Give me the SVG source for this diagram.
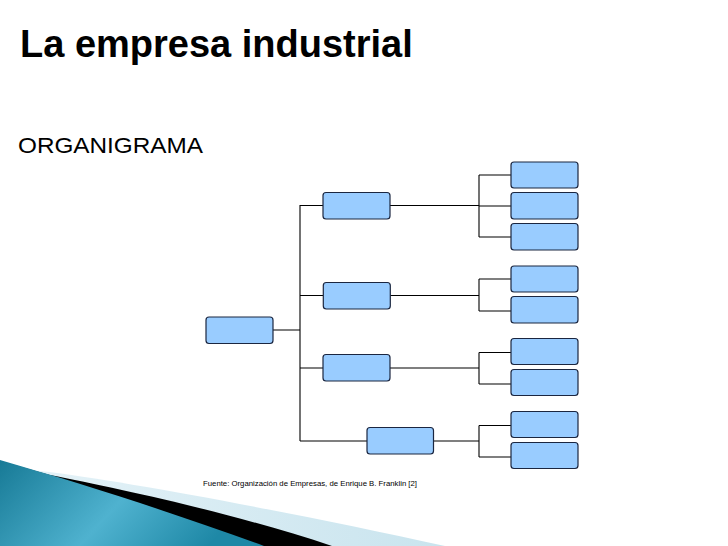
<svg xmlns="http://www.w3.org/2000/svg" width="728" height="546" viewBox="0 0 728 546">
<defs>
<style>
.box{fill:#99ccff;stroke:#1b2640;stroke-width:1.2}
.con{fill:none;stroke:#000;stroke-width:1.1}
.t{font-family:"Liberation Sans",Arial,sans-serif;fill:#000}
</style>
<linearGradient id="teal" x1="0" y1="0" x2="1" y2="0.3">
<stop offset="0" stop-color="#177a96"/>
<stop offset="0.55" stop-color="#4fb2cf"/>
<stop offset="1" stop-color="#1e88a6"/>
</linearGradient>
<linearGradient id="lb" x1="0" y1="0" x2="1" y2="0">
<stop offset="0" stop-color="#e6f3f8"/>
<stop offset="1" stop-color="#c9e4ee"/>
</linearGradient>
</defs>
<rect width="728" height="546" fill="#fff"/>
<g id="swoosh">
<path d="M40,471 C120,480 300,514 445,546 L0,546 Z" fill="url(#lb)"/>
<path d="M0,461 L50,475 C120,489 230,512 332,546 L0,546 Z" fill="#000"/>
<path d="M0,460 C80,483 180,515 264,546 L0,546 Z" fill="url(#teal)"/>
</g>
<text class="t" x="20" y="57" font-size="38" font-weight="bold">La empresa industrial</text>
<text class="t" x="18" y="153" font-size="22.5" textLength="185" lengthAdjust="spacingAndGlyphs">ORGANIGRAMA</text>
<g id="connectors">
<path class="con" d="M273,330 H300 M300,205 V441 M300,205.5 H323 M300,295.5 H323 M300,368 H323 M300,441 H367"/>
<path class="con" d="M390,205.5 H479 M479,175 V237 M479,175 H511 M479,206 H511 M479,237 H511"/>
<path class="con" d="M390,295.5 H479 M479,279 V311 M479,279 H511 M479,311 H511"/>
<path class="con" d="M390,368 H479 M479,352.5 V384 M479,352.5 H511 M479,384 H511"/>
<path class="con" d="M433,441 H479 M479,425.5 V457 M479,425.5 H511 M479,457 H511"/>
</g>
<g id="root"><rect class="box" x="206" y="317" width="67" height="26.5" rx="3"/></g>
<g id="n1"><rect class="box" x="323" y="192.5" width="67" height="26.5" rx="3"/></g>
<g id="n2"><rect class="box" x="323.3" y="282.5" width="67" height="26.5" rx="3"/></g>
<g id="n3"><rect class="box" x="323" y="354.5" width="67" height="26.5" rx="3"/></g>
<g id="n4"><rect class="box" x="367" y="427.5" width="66.5" height="26.5" rx="3"/></g>
<g id="n1a"><rect class="box" x="511" y="162" width="67" height="26" rx="3"/></g>
<g id="n1b"><rect class="box" x="511" y="192.5" width="67" height="26.5" rx="3"/></g>
<g id="n1c"><rect class="box" x="511" y="223.5" width="67" height="26.5" rx="3"/></g>
<g id="n2a"><rect class="box" x="511" y="266" width="67" height="26" rx="3"/></g>
<g id="n2b"><rect class="box" x="511" y="296.5" width="67" height="26.5" rx="3"/></g>
<g id="n3a"><rect class="box" x="511" y="338.5" width="67" height="26" rx="3"/></g>
<g id="n3b"><rect class="box" x="511" y="369.5" width="67" height="26" rx="3"/></g>
<g id="n4a"><rect class="box" x="511" y="411.5" width="67" height="26" rx="3"/></g>
<g id="n4b"><rect class="box" x="511" y="442.5" width="67" height="26" rx="3"/></g>
<text class="t" x="203" y="485.5" font-size="8" textLength="214" lengthAdjust="spacingAndGlyphs">Fuente: Organización de Empresas, de Enrique B. Franklin [2]</text>
</svg>
